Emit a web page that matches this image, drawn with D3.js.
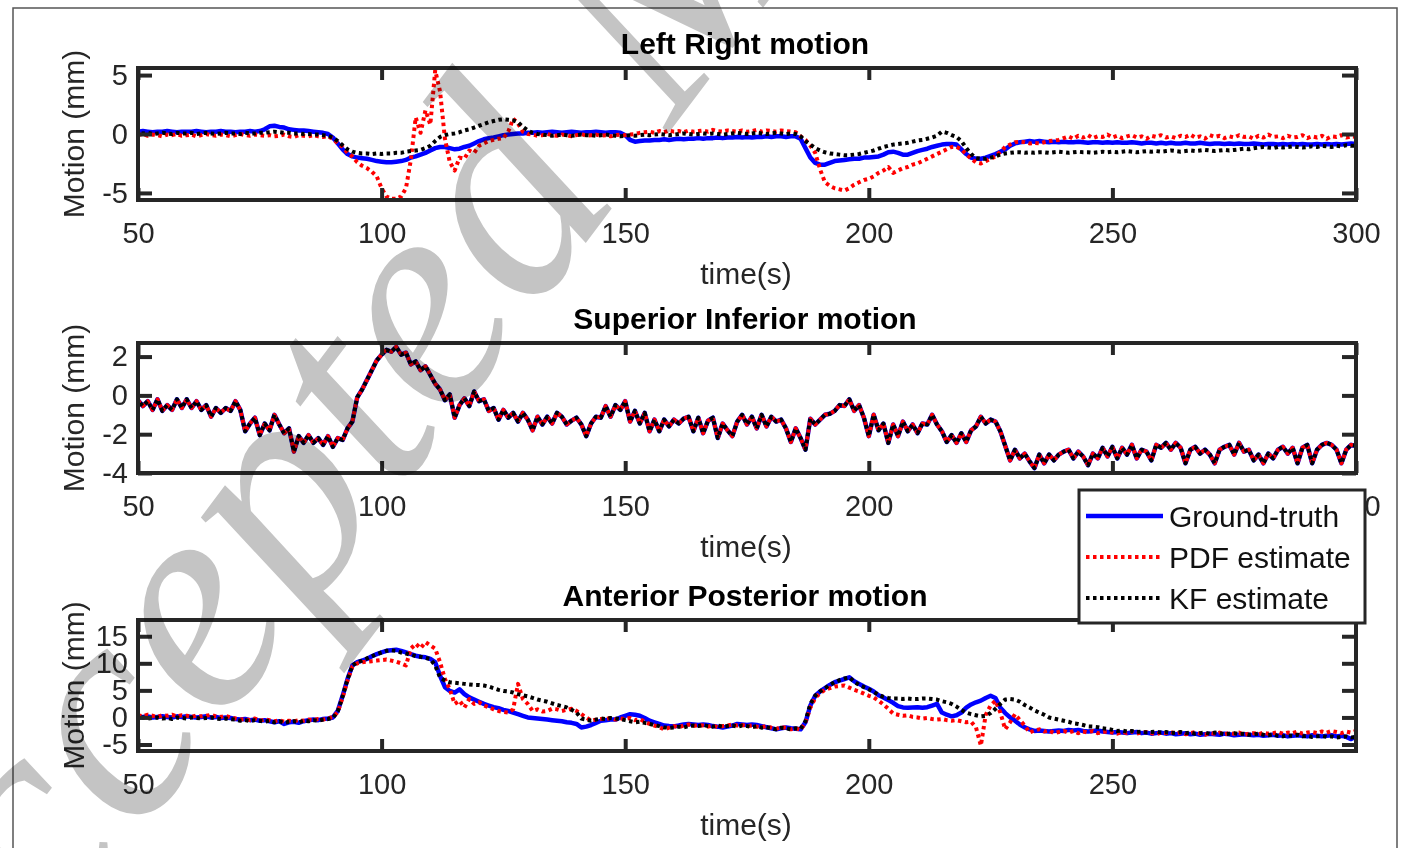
<!DOCTYPE html>
<html>
<head>
<meta charset="utf-8">
<script src="https://cdn.jsdelivr.net/npm/d3@7"></script>
<style>
  body { margin: 0; background: #fff; }
  svg text { font-family: "Liberation Sans", Arial, Helvetica, sans-serif; fill: #262626; }
</style>
</head>
<body>
<svg id="chart" width="1403" height="848"></svg>
<script>
// time axis, one sample per second
var timeSec = d3.range(50, 301);

// Left Right motion (mm)
var lrTruth = [
  0.2,0.25,0.2,0.15,0.2,0.2,0.25,0.2,0.15,0.2,
  0.2,0.2,0.25,0.2,0.15,0.2,0.2,0.25,0.2,0.2,
  0.15,0.2,0.2,0.25,0.2,0.25,0.4,0.65,0.7,0.6,
  0.55,0.4,0.35,0.3,0.3,0.25,0.2,0.15,0.1,0.0,
  -0.3,-0.8,-1.3,-1.7,-1.9,-2.0,-2.05,-2.1,-2.2,-2.3,
  -2.35,-2.4,-2.4,-2.35,-2.3,-2.2,-2.0,-1.9,-1.75,-1.6,
  -1.4,-1.2,-1.1,-1.1,-1.2,-1.3,-1.25,-1.1,-1.0,-0.8,
  -0.6,-0.45,-0.35,-0.3,-0.2,-0.1,-0.05,0.0,0.05,0.05,
  0.1,0.1,0.15,0.1,0.15,0.2,0.15,0.1,0.15,0.2,
  0.15,0.1,0.15,0.15,0.2,0.15,0.1,0.15,0.15,0.1,
  -0.1,-0.5,-0.65,-0.6,-0.55,-0.55,-0.5,-0.5,-0.45,-0.5,
  -0.45,-0.4,-0.45,-0.4,-0.4,-0.35,-0.4,-0.35,-0.35,-0.3,
  -0.35,-0.3,-0.3,-0.25,-0.3,-0.25,-0.3,-0.25,-0.25,-0.2,
  -0.25,-0.2,-0.2,-0.25,-0.2,-0.2,-0.4,-1.2,-2.0,-2.45,
  -2.6,-2.6,-2.45,-2.3,-2.25,-2.2,-2.15,-2.1,-2.1,-2.0,
  -2.0,-1.95,-1.9,-1.75,-1.55,-1.5,-1.6,-1.75,-1.75,-1.6,
  -1.45,-1.35,-1.25,-1.1,-1.0,-0.9,-0.85,-0.85,-0.9,-1.3,
  -1.7,-2.0,-2.1,-2.1,-2.0,-1.85,-1.7,-1.5,-1.3,-1.0,
  -0.8,-0.7,-0.65,-0.6,-0.65,-0.6,-0.65,-0.7,-0.65,-0.7,
  -0.65,-0.7,-0.7,-0.65,-0.7,-0.75,-0.7,-0.7,-0.75,-0.7,
  -0.75,-0.7,-0.75,-0.75,-0.7,-0.75,-0.8,-0.75,-0.75,-0.8,
  -0.75,-0.8,-0.75,-0.8,-0.8,-0.75,-0.8,-0.8,-0.75,-0.8,
  -0.85,-0.8,-0.8,-0.85,-0.8,-0.85,-0.8,-0.85,-0.85,-0.8,
  -0.85,-0.9,-0.85,-0.85,-0.9,-0.85,-0.9,-0.85,-0.9,-0.85,
  -0.9,-0.9,-0.85,-0.9,-0.85,-0.9,-0.85,-0.9,-0.85,-0.8,
  -0.85
];
var lrPdf = [
  -0.1,0.0,-0.15,-0.05,-0.1,-0.2,-0.05,-0.1,0.0,-0.15,
  -0.1,-0.05,-0.2,-0.1,0.0,-0.1,-0.15,-0.05,-0.1,-0.2,
  -0.1,0.0,-0.1,-0.15,-0.05,-0.1,-0.15,-0.1,-0.2,-0.15,
  -0.05,-0.2,-0.25,-0.1,-0.15,-0.2,-0.1,-0.2,-0.25,-0.2,
  -0.4,-0.8,-1.1,-1.6,-1.9,-2.4,-2.7,-2.9,-3.2,-3.6,
  -4.6,-5.3,-5.5,-5.5,-5.3,-4.6,-2.2,1.4,0.1,2.0,
  0.8,5.4,3.6,-0.4,-2.4,-3.1,-2.0,-2.1,-1.4,-1.6,
  -1.0,-0.8,-0.6,-0.5,-0.4,-0.35,0.2,1.3,0.9,0.2,
  0.0,-0.05,-0.15,-0.1,0.0,-0.1,-0.15,-0.05,-0.1,-0.2,
  -0.1,0.0,-0.15,-0.1,-0.05,-0.15,-0.1,-0.2,-0.1,-0.05,
  -0.1,-0.05,0.0,0.1,0.15,0.2,0.1,0.25,0.15,0.3,
  0.2,0.25,0.15,0.3,0.2,0.25,0.3,0.2,0.35,0.25,
  0.2,0.3,0.25,0.2,0.3,0.2,0.25,0.35,0.2,0.3,
  0.25,0.2,0.3,0.25,0.2,0.15,-0.2,-0.5,-1.0,-1.6,
  -3.0,-4.1,-4.4,-4.6,-4.7,-4.8,-4.6,-4.3,-4.1,-3.9,
  -3.8,-3.6,-3.3,-3.1,-2.8,-3.3,-3.1,-2.9,-2.8,-2.6,
  -2.5,-2.3,-2.1,-1.9,-1.7,-1.5,-1.3,-1.1,-1.1,-1.3,
  -1.7,-2.1,-2.4,-2.5,-2.3,-2.1,-1.9,-1.5,-1.1,-0.9,
  -0.7,-0.65,-0.7,-0.8,-0.75,-0.8,-0.7,-0.6,-0.55,-0.5,
  -0.35,-0.2,-0.4,-0.15,-0.3,-0.1,-0.35,-0.2,-0.25,-0.05,
  -0.3,-0.15,-0.35,-0.2,-0.1,-0.3,-0.2,-0.4,-0.15,-0.25,
  -0.1,-0.3,-0.2,-0.35,-0.15,-0.25,-0.05,-0.3,-0.2,-0.4,
  -0.1,-0.25,-0.15,-0.35,-0.2,-0.3,-0.1,-0.25,-0.2,-0.4,
  -0.15,-0.3,-0.05,-0.25,-0.2,-0.35,-0.15,-0.3,-0.25,-0.1,
  -0.35,-0.2,-0.3,-0.15,-0.4,-0.2,-0.25,-0.1,-0.3,-0.2,
  -0.25
];
var lrKf = [
  0.1,0.05,0.1,0.0,0.05,0.1,0.05,0.0,0.1,0.05,
  0.05,0.1,0.0,0.05,0.1,0.05,0.0,0.05,0.1,0.05,
  0.05,0.0,0.1,0.05,0.05,0.1,0.1,0.15,0.2,0.15,
  0.1,0.1,0.05,0.05,0.0,0.0,-0.05,-0.05,-0.1,-0.15,
  -0.3,-0.6,-0.95,-1.3,-1.5,-1.6,-1.65,-1.65,-1.7,-1.65,
  -1.7,-1.65,-1.65,-1.6,-1.6,-1.5,-1.45,-1.4,-1.35,-1.2,
  -1.0,-0.6,-0.25,-0.1,0.0,0.05,0.15,0.3,0.4,0.55,
  0.7,0.85,1.0,1.1,1.2,1.25,1.2,1.15,1.0,0.6,
  0.3,0.1,0.0,-0.05,-0.1,-0.15,-0.1,-0.05,-0.1,-0.15,
  -0.1,-0.05,-0.1,-0.1,-0.15,-0.1,-0.05,-0.1,-0.15,-0.2,
  -0.15,-0.1,-0.15,-0.1,-0.05,-0.1,-0.05,0.0,-0.05,-0.1,
  -0.05,0.0,0.05,0.0,-0.05,0.0,0.05,0.0,0.05,0.0,
  -0.05,0.0,0.05,0.1,0.05,0.0,0.05,0.1,0.05,0.0,
  0.05,0.1,0.05,0.0,0.05,0.0,-0.2,-0.6,-0.9,-1.2,
  -1.4,-1.55,-1.65,-1.7,-1.75,-1.8,-1.8,-1.75,-1.7,-1.6,
  -1.5,-1.4,-1.25,-1.1,-1.0,-0.9,-0.85,-0.8,-0.75,-0.65,
  -0.55,-0.5,-0.4,-0.3,-0.15,0.2,0.1,-0.1,-0.25,-0.6,
  -1.2,-1.7,-2.05,-2.1,-2.1,-2.0,-1.9,-1.75,-1.65,-1.6,
  -1.55,-1.55,-1.6,-1.55,-1.6,-1.55,-1.55,-1.6,-1.55,-1.5,
  -1.55,-1.6,-1.55,-1.5,-1.55,-1.55,-1.6,-1.55,-1.5,-1.55,
  -1.5,-1.55,-1.5,-1.45,-1.5,-1.55,-1.5,-1.45,-1.5,-1.45,
  -1.5,-1.45,-1.4,-1.45,-1.5,-1.45,-1.4,-1.45,-1.4,-1.35,
  -1.4,-1.45,-1.4,-1.35,-1.4,-1.35,-1.3,-1.25,-1.3,-1.2,
  -1.15,-1.1,-1.15,-1.2,-1.1,-1.15,-1.1,-1.05,-1.1,-1.15,
  -1.1,-1.05,-1.1,-1.0,-1.05,-1.1,-1.0,-1.05,-0.95,-1.0,
  -1.0
];

// Superior Inferior motion (mm)
var siTruth = [
  -0.25,-0.55,-0.3,-0.75,-0.2,-0.8,-0.5,-0.75,-0.2,-0.65,
  -0.2,-0.65,-0.3,-0.75,-0.5,-1.1,-0.65,-0.9,-0.65,-0.8,
  -0.3,-0.75,-1.85,-1.45,-1.15,-2.05,-1.45,-1.8,-1.0,-1.5,
  -1.95,-1.7,-2.9,-2.1,-2.45,-2.05,-2.45,-2.2,-2.55,-2.1,
  -2.65,-2.2,-2.3,-1.7,-1.35,-0.1,0.3,0.8,1.3,1.8,
  2.1,2.35,2.25,2.5,2.1,2.2,1.6,1.75,1.3,1.5,
  1.05,0.6,0.3,-0.25,0.05,-1.15,-0.5,-0.15,-0.55,0.2,
  -0.3,-0.2,-0.8,-0.65,-1.25,-0.75,-1.15,-0.9,-1.35,-0.9,
  -1.25,-1.8,-1.1,-1.5,-1.1,-1.45,-0.9,-1.1,-1.5,-1.3,
  -1.15,-1.5,-2.1,-1.45,-1.1,-1.15,-0.55,-1.1,-0.5,-0.75,
  -0.3,-1.35,-0.8,-1.45,-0.9,-1.85,-1.25,-1.85,-1.25,-1.6,
  -1.25,-1.45,-1.2,-1.1,-1.85,-1.15,-1.95,-1.3,-1.15,-2.2,
  -1.45,-1.8,-2.1,-1.35,-1.0,-1.5,-1.1,-1.7,-1.0,-1.6,
  -1.1,-1.35,-1.25,-1.7,-2.4,-1.7,-2.2,-2.8,-1.2,-1.5,
  -1.25,-1.0,-0.95,-0.8,-0.5,-0.55,-0.2,-0.8,-0.5,-1.15,
  -2.1,-1.0,-1.8,-1.45,-2.45,-1.5,-2.1,-1.35,-1.85,-1.5,
  -1.95,-1.45,-1.5,-1.0,-1.5,-1.85,-2.4,-2.05,-2.45,-1.95,
  -2.4,-1.8,-1.6,-1.1,-1.45,-1.25,-1.35,-1.85,-2.6,-3.35,
  -2.8,-3.25,-3.0,-3.4,-3.75,-3.05,-3.5,-3.05,-3.35,-3.05,
  -2.9,-2.8,-3.25,-2.9,-3.15,-3.6,-3.0,-3.25,-2.7,-3.15,
  -2.65,-3.25,-2.7,-3.05,-2.55,-3.25,-2.8,-2.9,-3.35,-2.55,
  -2.7,-2.45,-2.8,-2.45,-2.7,-3.5,-2.8,-2.65,-3.0,-2.8,
  -3.05,-3.5,-2.8,-2.65,-2.55,-3.05,-2.45,-2.9,-2.8,-3.35,
  -3.05,-3.5,-3.0,-3.25,-2.8,-2.65,-3.0,-2.7,-3.5,-2.7,
  -2.55,-3.5,-2.8,-2.55,-2.45,-2.55,-2.8,-3.5,-2.8,-2.55,
  -2.6
];
// both estimates sit on the ground truth at this resolution
var siPdf = siTruth.slice();
var siKf = siTruth.slice();

// Anterior Posterior motion (mm)
var apTruth = [
  0.0,0.1,0.2,0.0,0.1,0.2,0.1,0.0,0.2,0.1,
  0.2,0.1,0.0,0.1,0.2,0.0,0.1,-0.1,0.0,-0.1,
  -0.3,-0.4,-0.3,-0.5,-0.4,-0.6,-0.5,-0.7,-0.9,-0.7,
  -1.2,-0.9,-0.8,-1.0,-0.7,-0.5,-0.4,-0.5,-0.3,-0.2,
  0.0,1.2,4.0,7.1,9.6,10.2,10.5,10.8,11.3,11.7,
  12.0,12.3,12.4,12.5,12.3,12.0,11.7,11.4,11.2,11.1,
  10.8,10.2,7.7,5.6,4.9,4.6,5.2,4.3,3.7,3.3,
  2.9,2.5,2.2,1.9,1.7,1.4,1.2,0.9,0.6,0.3,
  0.0,-0.1,-0.2,-0.3,-0.4,-0.5,-0.6,-0.7,-0.9,-1.0,
  -1.2,-1.85,-1.7,-1.4,-1.0,-0.6,-0.5,-0.4,-0.4,0.0,
  0.3,0.6,0.5,0.3,-0.1,-0.6,-0.9,-1.2,-1.5,-1.6,
  -1.65,-1.5,-1.3,-1.2,-1.3,-1.4,-1.3,-1.4,-1.6,-1.7,
  -1.85,-1.7,-1.5,-1.2,-1.3,-1.4,-1.3,-1.4,-1.6,-1.8,
  -2.0,-2.2,-2.0,-1.85,-2.0,-2.1,-2.2,-0.9,2.2,4.0,
  4.8,5.4,6.0,6.5,6.8,7.1,7.4,6.7,6.2,5.7,
  5.3,4.8,4.1,3.7,3.2,2.7,2.1,1.85,1.8,1.85,
  1.9,1.8,1.9,2.2,2.5,0.9,0.5,0.2,0.4,0.9,
  1.8,2.4,2.8,3.1,3.6,4.0,3.6,1.8,0.8,0.0,
  -0.6,-1.3,-1.85,-2.2,-2.5,-2.4,-2.5,-2.6,-2.5,-2.4,
  -2.5,-2.3,-2.4,-2.3,-2.5,-2.6,-2.5,-2.4,-2.6,-2.7,
  -2.8,-2.7,-2.8,-2.9,-2.8,-2.7,-2.9,-2.8,-3.0,-2.9,
  -2.8,-3.0,-2.9,-3.1,-3.0,-2.9,-3.1,-3.0,-3.2,-3.1,
  -3.0,-3.1,-3.2,-3.0,-3.1,-3.3,-3.2,-3.1,-3.2,-3.3,
  -3.2,-3.4,-3.3,-3.2,-3.4,-3.3,-3.5,-3.4,-3.3,-3.4,
  -3.5,-3.3,-3.4,-3.5,-3.4,-3.3,-3.5,-3.4,-3.6,-4.0,
  -3.5
];
var apPdf = [
  0.4,0.2,0.5,0.3,0.1,0.4,0.3,0.5,0.2,0.4,
  0.3,0.1,0.4,0.2,0.3,0.5,0.2,0.1,0.3,0.0,
  -0.2,-0.4,-0.3,-0.5,-0.2,-0.6,-0.4,-0.5,-0.7,-0.5,
  -0.8,-0.6,-0.7,-0.5,-0.6,-0.4,-0.5,-0.3,-0.4,-0.2,
  0.1,1.0,3.7,6.8,9.4,10.0,10.2,10.3,10.4,10.5,
  10.6,10.7,10.5,10.3,10.0,9.6,12.7,13.6,12.8,13.9,
  13.3,12.7,10.2,7.1,5.2,2.5,3.1,1.85,3.4,2.5,
  2.8,2.2,1.85,1.5,1.2,1.0,0.9,1.5,6.2,3.4,
  2.5,1.2,1.5,1.1,1.2,1.6,1.5,1.2,1.4,1.6,
  1.2,0.6,0.0,-0.6,-0.4,-0.3,-0.3,-0.1,-0.4,-0.2,
  -0.3,-0.1,-0.5,-0.3,-0.8,-1.2,-1.5,-1.8,-2.2,-1.9,
  -1.6,-1.8,-1.5,-1.3,-1.6,-1.4,-1.5,-1.7,-1.5,-1.8,
  -1.6,-1.5,-1.3,-1.5,-1.4,-1.6,-1.5,-1.7,-1.8,-1.6,
  -1.9,-2.1,-1.8,-1.9,-2.2,-2.0,-2.3,-0.9,1.8,3.6,
  4.5,5.1,5.4,5.7,5.8,5.9,5.5,5.1,4.8,4.4,
  4.0,3.7,3.1,2.4,1.6,0.7,0.5,0.3,0.4,0.1,
  0.0,-0.2,-0.1,-0.3,-0.4,-0.3,-0.5,-0.6,-0.5,-0.7,
  -0.9,-0.8,-1.85,-5.2,0.5,2.2,3.1,0.9,-2.2,-0.9,
  0.6,-0.5,-1.5,-2.8,-2.4,-2.2,-2.6,-2.4,-2.9,-2.7,
  -2.5,-2.8,-2.5,-2.9,-2.6,-2.8,-2.5,-2.9,-2.7,-2.6,
  -2.8,-3.0,-2.7,-2.9,-2.6,-3.0,-2.8,-2.7,-2.9,-3.1,
  -2.8,-2.9,-2.7,-3.0,-2.8,-3.1,-2.9,-2.7,-3.0,-3.2,
  -2.9,-3.0,-2.8,-3.1,-2.9,-3.0,-2.8,-3.2,-3.0,-2.9,
  -3.1,-2.8,-3.0,-2.9,-2.7,-3.0,-2.8,-2.9,-2.6,-3.0,
  -2.8,-2.7,-2.9,-2.6,-2.8,-2.5,-2.7,-2.9,-2.6,-2.8,
  -2.5
];
var apKf = [
  -0.1,0.0,-0.2,-0.1,0.0,-0.2,-0.1,-0.3,0.0,-0.1,
  -0.2,0.0,-0.1,-0.2,-0.1,0.0,-0.2,-0.3,-0.2,-0.3,
  -0.4,-0.6,-0.5,-0.7,-0.5,-0.6,-0.8,-0.6,-0.9,-0.7,
  -1.0,-0.8,-0.7,-0.9,-0.6,-0.7,-0.5,-0.6,-0.4,-0.3,
  -0.1,1.1,3.9,7.0,9.6,10.2,10.5,10.9,11.3,11.7,
  12.0,12.3,12.4,12.3,12.0,11.8,11.6,11.3,11.2,11.0,
  10.8,9.6,7.4,6.8,6.5,6.4,6.3,6.2,6.1,6.0,
  6.0,5.9,5.7,5.4,5.1,4.9,4.8,4.6,4.3,4.1,
  3.9,3.6,3.3,3.1,2.9,2.6,2.3,2.1,1.85,1.4,
  0.9,-0.2,-0.4,-0.6,-0.4,-0.2,-0.3,-0.1,-0.2,-0.3,
  -0.5,-0.7,-0.9,-0.8,-1.0,-1.2,-1.4,-1.6,-1.85,-1.9,
  -1.85,-1.7,-1.85,-1.6,-1.5,-1.6,-1.4,-1.6,-1.7,-1.5,
  -1.7,-1.6,-1.5,-1.7,-1.5,-1.6,-1.8,-1.6,-1.9,-1.8,
  -2.0,-2.2,-1.9,-2.0,-2.2,-2.0,-2.1,-0.7,2.5,4.0,
  4.8,5.4,6.0,6.5,6.9,7.2,7.4,6.6,6.0,5.6,
  5.2,4.7,4.2,3.8,3.6,3.5,3.5,3.4,3.5,3.4,
  3.4,3.5,3.5,3.4,3.3,3.0,2.8,2.5,2.0,1.4,
  0.9,0.6,0.4,0.2,0.3,0.8,1.6,2.5,3.3,3.4,
  3.3,2.9,2.3,1.85,1.3,0.9,0.5,0.0,-0.2,-0.4,
  -0.6,-0.8,-1.1,-1.2,-1.4,-1.65,-1.7,-1.8,-2.0,-2.1,
  -2.3,-2.5,-2.4,-2.6,-2.5,-2.7,-2.6,-2.8,-2.7,-2.6,
  -2.8,-2.7,-2.9,-2.8,-2.7,-2.9,-2.8,-3.0,-2.9,-2.8,
  -3.0,-2.8,-2.9,-3.1,-3.0,-2.9,-3.1,-3.0,-3.2,-3.1,
  -3.0,-3.2,-3.3,-3.1,-3.4,-3.5,-3.3,-3.4,-3.2,-3.5,
  -3.4,-3.6,-3.5,-3.4,-3.6,-3.5,-3.7,-3.6,-3.5,-3.7,
  -3.6
];

var panelTitles = ["Left Right motion", "Superior Inferior motion", "Anterior Posterior motion"];
var yTickValues = [[-5, 0, 5], [-4, -2, 0, 2], [-5, 0, 5, 10, 15]];
var xTickValues = [[50, 100, 150, 200, 250, 300], [50, 100, 150, 200, 250, 300], [50, 100, 150, 200, 250]];
var legendLabels = ["Ground-truth", "PDF estimate", "KF estimate"];

[lrTruth, lrPdf, lrKf, siTruth, apTruth, apPdf, apKf].forEach(function (a, i) {
  if (a.length !== timeSec.length) console.error("series " + i + " has " + a.length + " values");
});

var svg = d3.select("#chart");
var axisColor = "#262626";
// plain hyphen minus, as in the figure
var fmt = function (d) { return String(d); };

// figure frame
svg.append("rect")
  .attr("x", 13).attr("y", 8).attr("width", 1384).attr("height", 860)
  .attr("fill", "none").attr("stroke", "#555").attr("stroke-width", 1.5);

var x = d3.scaleLinear().domain([50, 300]).range([138, 1356]);

var panels = [
  {top: 68, bottom: 200, domain: [-5.6, 5.6], series: [lrTruth, lrPdf, lrKf]},
  {top: 343, bottom: 473, domain: [-4, 2.7], series: [siTruth, siPdf, siKf]},
  {top: 620, bottom: 751, domain: [-6.2, 18], series: [apTruth, apPdf, apKf]}
];

var styles = [
  {color: "#0000ff", width: 4.5, dash: null, offset: 0},
  {color: "#ff0000", width: 4, dash: "3.5,3.5", offset: 0},
  {color: "#000000", width: 4, dash: "3.5,3.5", offset: 3.5}
];

panels.forEach(function (p, i) {
  var y = d3.scaleLinear().domain(p.domain).range([p.bottom, p.top]);
  var g = svg.append("g");

  g.append("clipPath").attr("id", "clip" + i)
    .append("rect").attr("x", 138).attr("y", p.top)
    .attr("width", 1356 - 138).attr("height", p.bottom - p.top);

  var line = d3.line()
    .x(function (d, k) { return x(timeSec[k]); })
    .y(function (d) { return y(d); });

  p.series.forEach(function (s, k) {
    var st = styles[k];
    g.append("path")
      .datum(s)
      .attr("clip-path", "url(#clip" + i + ")")
      .attr("d", line)
      .attr("fill", "none")
      .attr("stroke", st.color)
      .attr("stroke-width", st.width)
      .attr("stroke-linejoin", "round")
      .attr("stroke-dasharray", st.dash)
      .attr("stroke-dashoffset", st.offset);
  });

  // inward ticks on all four sides
  g.append("g")
    .attr("transform", "translate(0," + p.bottom + ")")
    .call(d3.axisBottom(x).tickValues(xTickValues[i]).tickFormat(fmt)
      .tickSizeInner(-12).tickSizeOuter(0).tickPadding(22))
    .call(function (a) {
      a.select(".domain").remove();
      a.selectAll("line").attr("stroke", axisColor).attr("stroke-width", 4);
      a.selectAll("text").attr("font-size", 29).attr("fill", axisColor);
    });
  g.append("g")
    .attr("transform", "translate(0," + p.top + ")")
    .call(d3.axisTop(x).tickValues(xTickValues[i]).tickSizeInner(-12).tickSizeOuter(0).tickFormat(""))
    .call(function (a) {
      a.select(".domain").remove();
      a.selectAll("line").attr("stroke", axisColor).attr("stroke-width", 4);
    });
  g.append("g")
    .attr("transform", "translate(138,0)")
    .call(d3.axisLeft(y).tickValues(yTickValues[i]).tickFormat(fmt)
      .tickSizeInner(-14).tickSizeOuter(0).tickPadding(10))
    .call(function (a) {
      a.select(".domain").remove();
      a.selectAll("line").attr("stroke", axisColor).attr("stroke-width", 4);
      a.selectAll("text").attr("font-size", 29).attr("fill", axisColor);
    });
  g.append("g")
    .attr("transform", "translate(1356,0)")
    .call(d3.axisRight(y).tickValues(yTickValues[i]).tickSizeInner(-14).tickSizeOuter(0).tickFormat(""))
    .call(function (a) {
      a.select(".domain").remove();
      a.selectAll("line").attr("stroke", axisColor).attr("stroke-width", 4);
    });

  g.append("rect")
    .attr("x", 138).attr("y", p.top)
    .attr("width", 1356 - 138).attr("height", p.bottom - p.top)
    .attr("fill", "none").attr("stroke", axisColor).attr("stroke-width", 4);

  g.append("text")
    .attr("x", 745).attr("y", p.top - 14)
    .attr("text-anchor", "middle")
    .attr("font-size", 30).attr("font-weight", "bold")
    .style("fill", "#000")
    .text(panelTitles[i]);

  g.append("text")
    .attr("x", 746).attr("y", p.bottom + 84)
    .attr("text-anchor", "middle")
    .attr("font-size", 30)
    .text("time(s)");

  g.append("text")
    .attr("transform", "translate(84," + ((p.top + p.bottom) / 2) + ") rotate(-90)")
    .attr("text-anchor", "middle")
    .attr("font-size", 30)
    .text("Motion (mm)");
});

// legend, drawn over the second and third panels
var legend = svg.append("g").attr("transform", "translate(1079,490)");
legend.append("rect")
  .attr("width", 286).attr("height", 133)
  .attr("fill", "#fff").attr("stroke", axisColor).attr("stroke-width", 3);
legendLabels.forEach(function (lab, k) {
  var yy = 26 + k * 41;
  var st = styles[k];
  legend.append("line")
    .attr("x1", 7).attr("x2", 84).attr("y1", yy).attr("y2", yy)
    .attr("stroke", st.color).attr("stroke-width", st.width)
    .attr("stroke-dasharray", st.dash);
  legend.append("text")
    .attr("x", 90).attr("y", yy + 11)
    .attr("font-size", 30)
    .style("fill", "#111")
    .text(lab);
});

// watermark of the source manuscript
svg.append("text")
  .attr("transform", "translate(-60,1100) rotate(-53)")
  .attr("font-size", 310)
  .attr("font-style", "italic")
  .style("font-family", "'Liberation Serif', 'DejaVu Serif', serif")
  .style("fill", "#c4c4c4")
  .style("mix-blend-mode", "multiply")
  .text("Accepted Manuscript");
</script>
</body>
</html>
